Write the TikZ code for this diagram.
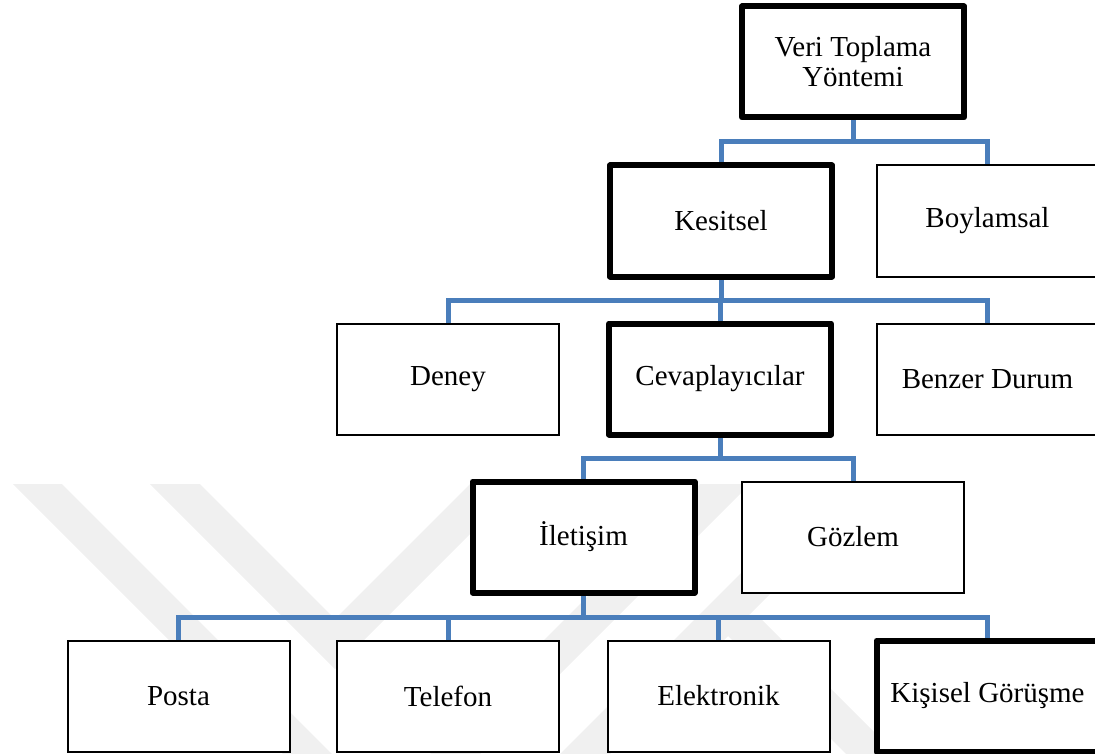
\documentclass[tikz,border=0pt]{standalone}
\usepackage{fontspec}
\setmainfont{Liberation Serif}
\usetikzlibrary{backgrounds}
\definecolor{connblue}{RGB}{74,126,187}
\definecolor{wmgray}{RGB}{240,240,240}
\begin{document}
\begin{tikzpicture}[x=1pt,y=-1pt,
  box/.style={draw=black, fill=white, line width=2pt, minimum width=222pt,
    minimum height=111pt, inner sep=0pt, align=center,
    font=\fontsize{29}{30}\selectfont},
  keybox/.style={box, line width=6pt, line join=round},
  link/.style={draw=connblue, line width=5pt}]
\useasboundingbox (0,0) rectangle (1095,754);
\clip (0,0) rectangle (1095,754);

% nodes
\node[keybox] (vt)  at (853,62)    {Veri Toplama\\Yöntemi};
\node[keybox] (kes) at (721,221)   {Kesitsel};
\node[box]    (boy) at (987.5,221) {Boylamsal};
\node[box]    (den) at (448,379)   {Deney};
\node[keybox] (cev) at (720,379)   {Cevaplayıcılar};
\node[box]    (ben) at (987.5,379) {Benzer Durum};
\node[keybox] (ile) at (583.5,537) {İletişim};
\node[box]    (goz) at (853,537)   {Gözlem};
\node[box]    (pos) at (178.5,696) {Posta};
\node[box]    (tel) at (448,696)   {Telefon};
\node[box]    (ele) at (718.5,696) {Elektronik};
\node[keybox] (kis) at (987.5,696) {Kişisel Görüşme};

\coordinate (b0) at (0,142);
\coordinate (b1) at (0,300);
\coordinate (b2) at (0,458);
\coordinate (b3) at (0,617);

\begin{scope}[on background layer]
  \clip (0,0) rectangle (1095,754);
  % watermark
  \fill[wmgray] (13,484) -- (62,484) -- (332,754) -- (283,754) -- cycle;
  \fill[wmgray] (150,484) -- (200,484) -- (335,619) -- (470,484) -- (520,484) -- (335,669) -- cycle;
  \fill[wmgray] (700,484) -- (750,484) -- (480,754) -- (430,754) -- cycle;
  \fill[wmgray] (830,484) -- (880,484) -- (610,754) -- (560,754) -- cycle;
  \fill[wmgray] (712,620) -- (762,620) -- (896,754) -- (846,754) -- cycle;
  % connectors
  \foreach \c in {kes,boy}
    \draw[link] (vt.south) -- (vt.south |- b0) -| (\c.north);
  \foreach \c in {den,cev,ben}
    \draw[link] (kes.south) -- (kes.south |- b1) -| (\c.north);
  \foreach \c in {ile,goz}
    \draw[link] (cev.south) -- (cev.south |- b2) -| (\c.north);
  \foreach \c in {pos,tel,ele,kis}
    \draw[link] (ile.south) -- (ile.south |- b3) -| (\c.north);
\end{scope}
\end{tikzpicture}
\end{document}
